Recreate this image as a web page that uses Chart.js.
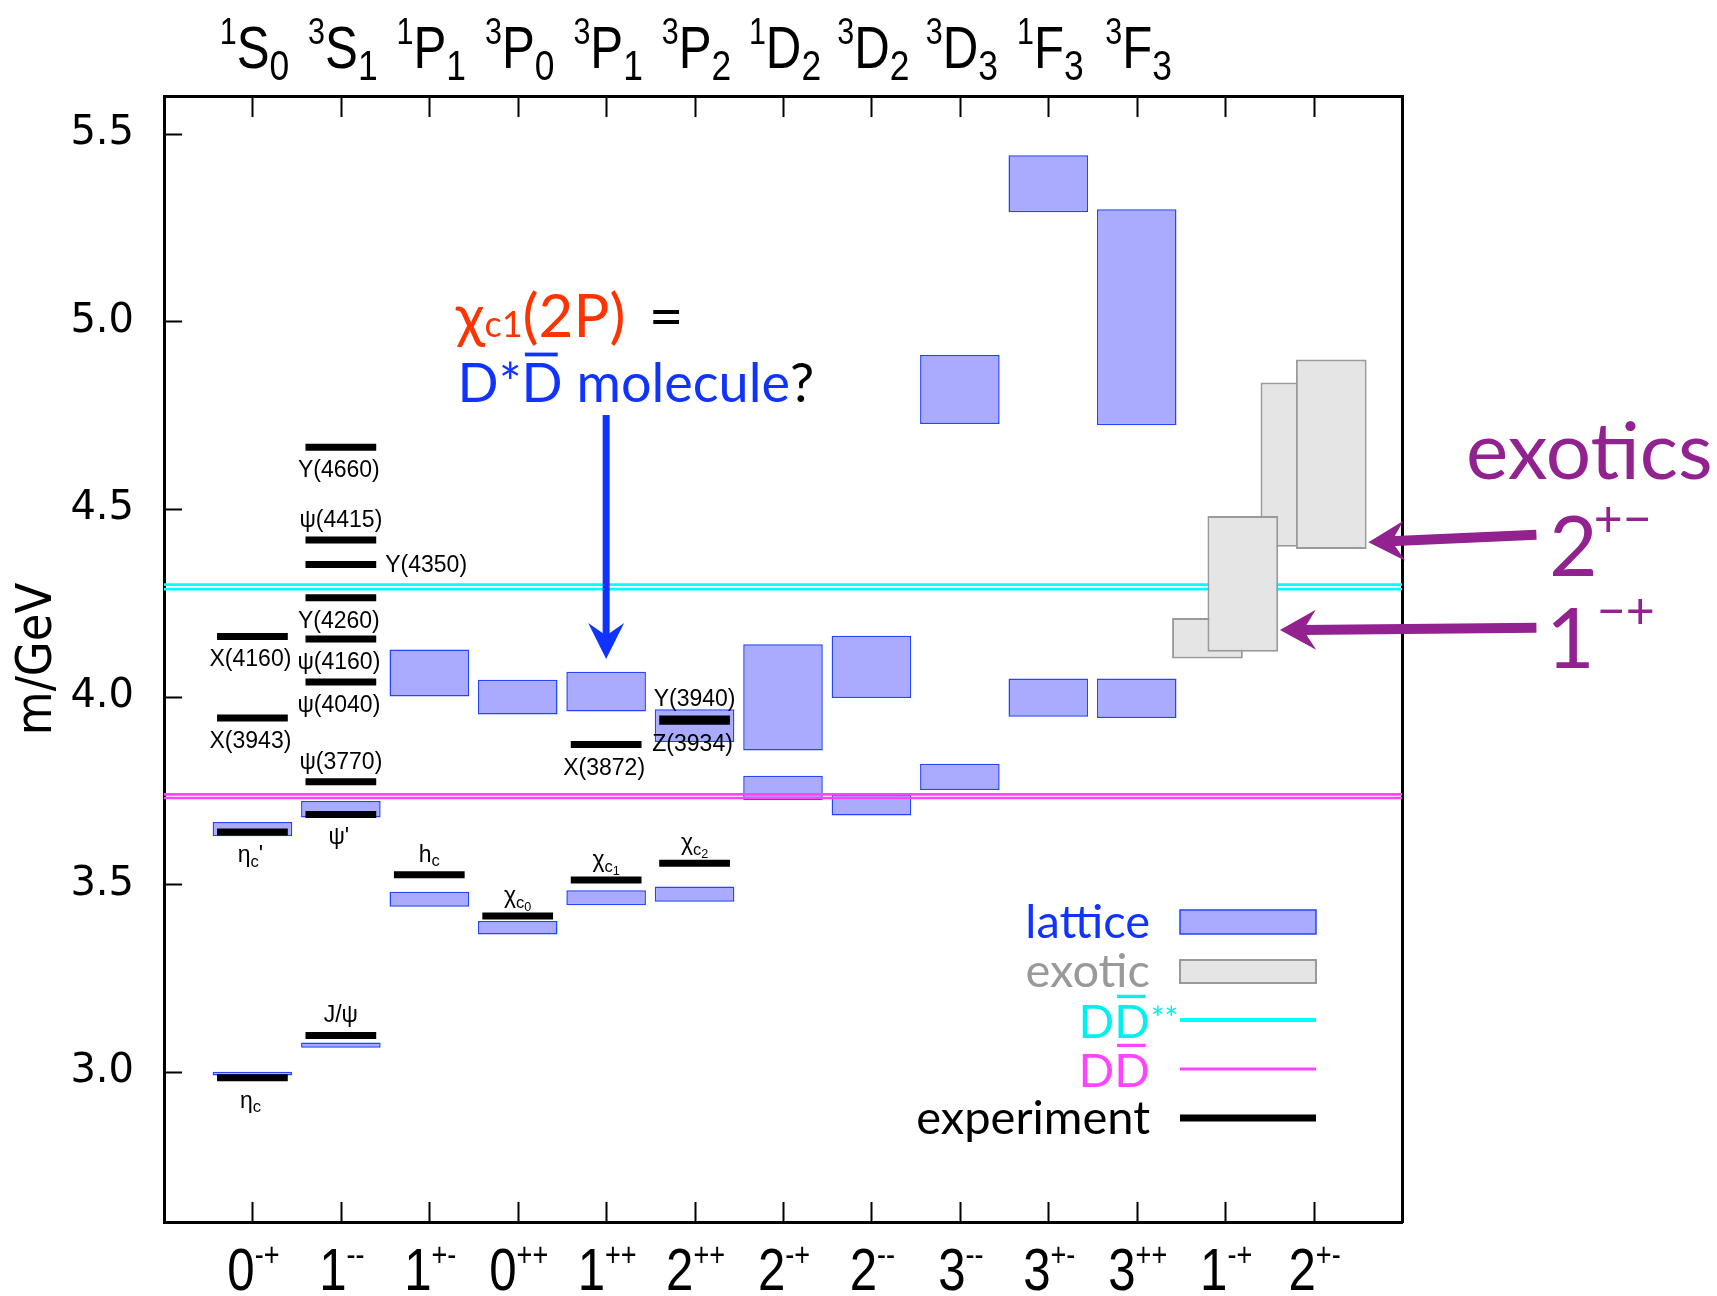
<!DOCTYPE html>
<html>
<head>
<meta charset="utf-8">
<title>charmonium spectrum</title>
<script src="https://cdn.jsdelivr.net/npm/chart.js@4.4.1/dist/chart.umd.min.js"></script>
<style>
  html, body { margin: 0; padding: 0; background: #fff; }
  #wrap { width: 1717px; height: 1296px; position: relative; }
</style>
</head>
<body>
<div id="wrap"><canvas id="chart"></canvas></div>
<script>
// J^PC channels on the bottom axis, spectroscopic terms on the top axis
// ('^' raises the next character, '_' lowers it, '~' makes it small)
const jpc = ['0^-^+', '1^-^-', '1^+^-', '0^+^+', '1^+^+', '2^+^+', '2^-^+', '2^-^-', '3^-^-', '3^+^-', '3^+^+', '1^-^+', '2^+^-'];
const terms = ['^1S_0', '^3S_1', '^1P_1', '^3P_0', '^3P_1', '^3P_2', '^1D_2', '^3D_2', '^3D_3', '^1F_3', '^3F_3'];
const yTicks = [3.0, 3.5, 4.0, 4.5, 5.0, 5.5];

// lattice boxes [low, high] in GeV, two states per channel (channels 1..11)
const latticeLower = [[2.990, 3.000], [3.064, 3.078], [3.440, 3.480], [3.366, 3.402], [3.444, 3.484], [3.453, 3.494],
                      [3.724, 3.789], [3.683, 3.739], [3.751, 3.821], [3.946, 4.048], [3.943, 4.048]];
const latticeUpper = [[3.628, 3.666], [3.678, 3.722], [4.000, 4.125], [3.952, 4.045], [3.960, 4.066], [3.879, 3.966],
                      [3.856, 4.139], [3.996, 4.162], [4.726, 4.910], [5.290, 5.442], [4.723, 5.298]];

// exotic channels 1-+ and 2+- (two boxes each)
const exoticCols = [12, 13];
const exoticFirst = [[4.101, 4.209], [4.399, 4.837]];
const exoticSecond = [[4.119, 4.481], [4.393, 4.898]];

// experimental states
const expNames = ['η_c', "η_c'", 'X(3943)', 'X(4160)',
                  'J/ψ', "ψ'", 'ψ(3770)', 'ψ(4040)', 'ψ(4160)', 'Y(4260)', 'Y(4350)', 'ψ(4415)', 'Y(4660)',
                  'h_c', 'χ_c__0', 'χ_c__1', 'X(3872)', 'χ_c__2', 'Y(3940)', 'Z(3934)'];
const expCol  = [1, 1, 1, 1, 2, 2, 2, 2, 2, 2, 2, 2, 2, 3, 4, 5, 5, 6, 6, 6];
const expMass = [2.984, 3.639, 3.943, 4.160, 3.097, 3.686, 3.773, 4.039, 4.153, 4.263, 4.352, 4.417, 4.664,
                 3.525, 3.415, 3.511, 3.872, 3.556, 3.940, 3.934];
const expLabelSide = ['below', 'below', 'below', 'below', 'above', 'below', 'above', 'below', 'below', 'below',
                      'right', 'above', 'below', 'above', 'above', 'above', 'below', 'above', 'above', 'below'];

// open charm thresholds (two lines each)
const thrDDbar = [3.7297, 3.7392];
const thrDDstar = [4.286, 4.298];

const LAT_W = 0.9, EXO_W = 0.8, EXO_SHIFT = 0.2, EXP_HALF = 0.4;
const HELV = '"Liberation Sans", Arial, sans-serif';
const GILL = 'Lato, "Open Sans", sans-serif';
const PURPLE = '#92228f';

function twoLines(vals) {
    const pts = [];
    vals.forEach(v => { pts.push({x: 0, y: v}, {x: 14, y: v}, {x: 7, y: null}); });
    return pts;
}

const expPoints = [];
expCol.forEach((c, i) => {
    expPoints.push({x: c - EXP_HALF, y: expMass[i]}, {x: c + EXP_HALF, y: expMass[i]}, {x: c, y: null});
});

const latticeStyle = {
    type: 'bar', backgroundColor: '#aaaaff', borderColor: '#2244ff', borderWidth: 1.5,
    borderSkipped: false, grouped: false, barPercentage: LAT_W, categoryPercentage: 1, order: 6
};
const exoticStyle = {
    type: 'bar', backgroundColor: '#e5e5e5', borderColor: '#9a9a9a', borderWidth: 2,
    borderSkipped: false, grouped: false, barPercentage: EXO_W, categoryPercentage: 1
};

// rich text: '^' superscript, '_' subscript ('__' deeper), '~' small on baseline
// sx squeezes the text horizontally (narrow Helvetica look)
function drawRich(ctx, str, x, y, size, family, align, sx, supScale) {
    sx = sx || 1;
    supScale = supScale || 0.6;
    const parts = [];
    let lvl = 0;
    for (const ch of str) {
        if (ch === '^') { lvl = 1; continue; }
        if (ch === '_') { lvl = lvl < 0 ? -2 : -1; continue; }
        if (ch === '~') { lvl = 9; continue; }
        parts.push({ch: ch, lvl: lvl});
        lvl = 0;
    }
    const fs = l => l === 0 ? size : (l === -2 ? size * 0.55 : (l === -1 ? size * 0.72 : size * supScale));
    const dy = l => l === 1 ? -size * 0.4 : (l === -1 ? size * 0.2 : (l === -2 ? size * 0.34 : 0));
    let w = 0;
    parts.forEach(p => {
        ctx.font = fs(p.lvl) + 'px ' + family;
        p.w = ctx.measureText(p.ch).width * sx;
        w += p.w;
    });
    let cx = align === 'center' ? x - w / 2 : (align === 'right' ? x - w : x);
    ctx.textAlign = 'left';
    ctx.textBaseline = 'alphabetic';
    parts.forEach(p => {
        ctx.font = fs(p.lvl) + 'px ' + family;
        ctx.save();
        ctx.translate(cx, y + dy(p.lvl));
        ctx.scale(sx, 1);
        ctx.fillText(p.ch, 0, 0);
        ctx.restore();
        cx += p.w;
    });
    return w;
}

function arrow(ctx, x0, y0, x1, y1, lw, headLen, headHalf, color) {
    const ang = Math.atan2(y1 - y0, x1 - x0);
    const len = Math.hypot(x1 - x0, y1 - y0);
    ctx.save();
    ctx.translate(x1, y1);
    ctx.rotate(ang);
    ctx.fillStyle = color;
    ctx.fillRect(-len, -lw / 2, len - headLen * 0.6, lw);
    ctx.beginPath();
    ctx.moveTo(0, 0);
    ctx.lineTo(-headLen, -headHalf);
    ctx.lineTo(-headLen * 0.65, 0);
    ctx.lineTo(-headLen, headHalf);
    ctx.closePath();
    ctx.fill();
    ctx.restore();
}

// D with a bar over it, returns width
function dBar(ctx, x, y, size, family) {
    ctx.font = size + 'px ' + family;
    const w = ctx.measureText('D').width;
    ctx.fillText('D', x, y);
    ctx.fillRect(x + w * 0.08, y - size * 0.92, w * 0.8, size * 0.07);
    return w;
}

const decor = {
    id: 'decor',
    afterDatasetsDraw(chart) {
        const ctx = chart.ctx;
        const xs = chart.scales.x, ys = chart.scales.y;
        const X = v => xs.getPixelForValue(v), Y = v => ys.getPixelForValue(v);
        ctx.save();

        // state names
        ctx.fillStyle = '#000';
        expNames.forEach((name, i) => {
            const c = expCol[i], py = Y(expMass[i]);
            const side = expLabelSide[i];
            if (side === 'right') {
                drawRich(ctx, name, X(c + EXP_HALF) + 9, py + 8, 23, HELV, 'left');
            } else if (side === 'above') {
                drawRich(ctx, name, X(c), py - 13, 23, HELV, 'center');
            } else {
                drawRich(ctx, name, X(c) - 2, py + 30, 23, HELV, 'center');
            }
        });

        // chi_c1(2P) annotation
        ctx.fillStyle = '#ff3300';
        let w = drawRich(ctx, 'χ~c~1(2P)', X(3.30), Y(4.957), 60, GILL, 'left');
        ctx.fillStyle = '#000';
        ctx.font = '60px ' + GILL;
        ctx.fillText(' =', X(3.30) + w + 8, Y(4.957));

        ctx.fillStyle = '#1133ff';
        let x0 = X(3.32), yb = Y(4.784);
        ctx.font = '54px ' + GILL;
        ctx.fillText('D*', x0, yb);
        x0 += ctx.measureText('D*').width;
        x0 += dBar(ctx, x0, yb, 54, GILL);
        ctx.font = '54px ' + GILL;
        ctx.fillText(' molecule', x0, yb);
        x0 += ctx.measureText(' molecule').width;
        ctx.fillStyle = '#000';
        ctx.fillText('?', x0, yb);

        arrow(ctx, X(5), Y(4.75), X(5), Y(4.10), 7, 36, 18, '#1133ff');

        // exotics annotation
        ctx.fillStyle = PURPLE;
        ctx.font = '80px ' + GILL;
        ctx.fillText('exotics', 1466, 479);
        ctx.font = '84px ' + GILL;
        ctx.fillText('2', 1549, 576);
        let dw = ctx.measureText('2').width;
        ctx.font = '50px ' + GILL;
        ctx.fillText('+\u2212', 1549 + dw - 4, 536);
        ctx.font = '84px ' + GILL;
        ctx.fillText('1', 1546, 668);
        dw = ctx.measureText('1').width;
        ctx.font = '50px ' + GILL;
        ctx.fillText('\u2212+', 1546 + dw + 2, 628);

        arrow(ctx, X(15.52), Y(4.431), X(13.62), Y(4.411), 10, 36, 20, PURPLE);
        arrow(ctx, X(15.52), Y(4.183), X(12.62), Y(4.177), 10, 36, 20, PURPLE);
        ctx.restore();
    },
    afterDraw(chart) {
        const ctx = chart.ctx;
        const area = chart.chartArea;
        const xs = chart.scales.x, ys = chart.scales.y;
        const X = v => xs.getPixelForValue(v), Y = v => ys.getPixelForValue(v);
        ctx.save();

        // inward ticks
        ctx.strokeStyle = '#000';
        ctx.lineWidth = 2;
        ctx.beginPath();
        jpc.forEach((lab, i) => {
            const px = Math.round(X(i + 1)) + 0.5;
            ctx.moveTo(px, area.bottom); ctx.lineTo(px, area.bottom - 20);
            ctx.moveTo(px, area.top); ctx.lineTo(px, area.top + 21);
        });
        ys.ticks.forEach(t => {
            const py = Math.round(Y(t.value)) + 0.5;
            ctx.moveTo(area.left, py); ctx.lineTo(area.left + 18, py);
        });
        ctx.stroke();

        // channel labels (narrow Helvetica)
        ctx.fillStyle = '#000';
        jpc.forEach((lab, i) => drawRich(ctx, lab, X(i + 1) + 1, 1290, 60, HELV, 'center', 0.82, 0.55));
        terms.forEach((lab, i) => drawRich(ctx, lab, X(i + 1) + 2, 68, 60, HELV, 'center', 0.82, 0.62));

        // legend
        const bx0 = area.right - 222, bx1 = area.right - 86, tx = area.right - 252;
        const rows = [300, 251, 202, 153, 104].map(d => area.bottom - d);
        ctx.font = '47px ' + GILL;
        ctx.textAlign = 'right';
        ctx.textBaseline = 'alphabetic';

        ctx.fillStyle = '#1133ff';
        ctx.fillText('lattice', tx, rows[0] + 16);
        ctx.fillStyle = '#aaaaff'; ctx.fillRect(bx0, rows[0] - 12, bx1 - bx0, 24);
        ctx.strokeStyle = '#2244ff'; ctx.lineWidth = 1.5; ctx.strokeRect(bx0, rows[0] - 12, bx1 - bx0, 24);

        ctx.fillStyle = '#999999';
        ctx.fillText('exotic', tx, rows[1] + 16);
        ctx.fillStyle = '#e5e5e5'; ctx.fillRect(bx0, rows[1] - 11, bx1 - bx0, 23);
        ctx.strokeStyle = '#9a9a9a'; ctx.lineWidth = 2; ctx.strokeRect(bx0, rows[1] - 11, bx1 - bx0, 23);

        // D Dbar labels
        const ddLabel = (color, y, stars) => {
            ctx.fillStyle = color;
            ctx.font = '47px ' + GILL;
            const dwid = ctx.measureText('D').width;
            ctx.textAlign = 'left';
            dBar(ctx, tx - dwid, y, 47, GILL);
            ctx.font = '47px ' + GILL;
            ctx.fillText('D', tx - 2 * dwid, y);
            if (stars) {
                ctx.font = '32px ' + GILL;
                ctx.fillText('**', tx + 1, y - 8);
            }
            ctx.textAlign = 'right';
        };
        ddLabel('#00f0f0', rows[2] + 18, true);
        ctx.fillStyle = '#00ffff'; ctx.fillRect(bx0, rows[2] - 2, bx1 - bx0, 4);
        ddLabel('#ff44ff', rows[3] + 18, false);
        ctx.fillStyle = '#ff44ff'; ctx.fillRect(bx0, rows[3] - 1.5, bx1 - bx0, 3);

        ctx.fillStyle = '#000';
        ctx.font = '47px ' + GILL;
        ctx.fillText('experiment', tx, rows[4] + 16);
        ctx.fillRect(bx0, rows[4] - 3.5, bx1 - bx0, 7);
        ctx.restore();
    }
};

const hiddenX = {type: 'linear', display: false, min: 0, max: 14, offset: false, ticks: {stepSize: 1}};
const frameGrid = {drawOnChartArea: false, drawTicks: false};
const frameBorder = {display: true, color: '#000', width: 3};

new Chart(document.getElementById('chart'), {
    type: 'bar',
    data: {
        datasets: [
            {...latticeStyle, label: 'lattice', data: latticeLower.map((r, i) => ({x: i + 1, y: r}))},
            {...latticeStyle, label: 'lattice', data: latticeUpper.map((r, i) => ({x: i + 1, y: r}))},
            {type: 'line', label: 'DD**', data: twoLines(thrDDstar), borderColor: '#00ffff', borderWidth: 2.7,
             pointRadius: 0, spanGaps: false, fill: false, order: 5},
            {type: 'line', label: 'DD', data: twoLines(thrDDbar), borderColor: '#ff44ff', borderWidth: 2.7,
             pointRadius: 0, spanGaps: false, fill: false, order: 5},
            {...exoticStyle, label: 'exotic', xAxisID: 'xExoA', order: 4,
             data: exoticCols.map((c, i) => ({x: c - EXO_SHIFT, y: exoticFirst[i]}))},
            {...exoticStyle, label: 'exotic', xAxisID: 'xExoB', order: 3,
             data: exoticCols.map((c, i) => ({x: c + EXO_SHIFT, y: exoticSecond[i]}))},
            {type: 'line', label: 'experiment', data: expPoints, borderColor: '#000', borderWidth: 7,
             pointRadius: 0, spanGaps: false, fill: false, order: 1}
        ]
    },
    options: {
        responsive: true,
        maintainAspectRatio: false,
        animation: false,
        layout: {padding: 0},
        plugins: {legend: {display: false}, tooltip: {enabled: false}},
        scales: {
            x: {type: 'linear', position: 'bottom', min: 0, max: 14, offset: false,
                ticks: {display: false, stepSize: 1}, grid: frameGrid, border: frameBorder,
                afterFit: s => { s.height = 74; }},
            xTop: {type: 'linear', position: 'top', min: 0, max: 14, offset: false,
                ticks: {display: false, stepSize: 1}, grid: frameGrid, border: frameBorder,
                afterFit: s => { s.height = 96; }},
            xExoA: hiddenX,
            xExoB: hiddenX,
            y: {type: 'linear', position: 'left', min: 2.6, max: 5.6,
                afterBuildTicks: s => { s.ticks = yTicks.map(v => ({value: v})); },
                ticks: {padding: 30, color: '#000',
                        font: {family: '"DejaVu Sans", sans-serif', size: 40},
                        callback: v => v.toFixed(1)},
                title: {display: true, text: 'm/GeV', color: '#000', padding: {top: 8, bottom: 0},
                        font: {family: '"DejaVu Sans Condensed", "DejaVu Sans", sans-serif', size: 50}},
                grid: frameGrid, border: frameBorder,
                afterFit: s => { s.width = 164; }},
            yRight: {type: 'linear', position: 'right', min: 2.6, max: 5.6,
                ticks: {display: false}, grid: frameGrid, border: frameBorder,
                afterFit: s => { s.width = 315; }}
        }
    },
    plugins: [decor]
});
</script>
</body>
</html>
